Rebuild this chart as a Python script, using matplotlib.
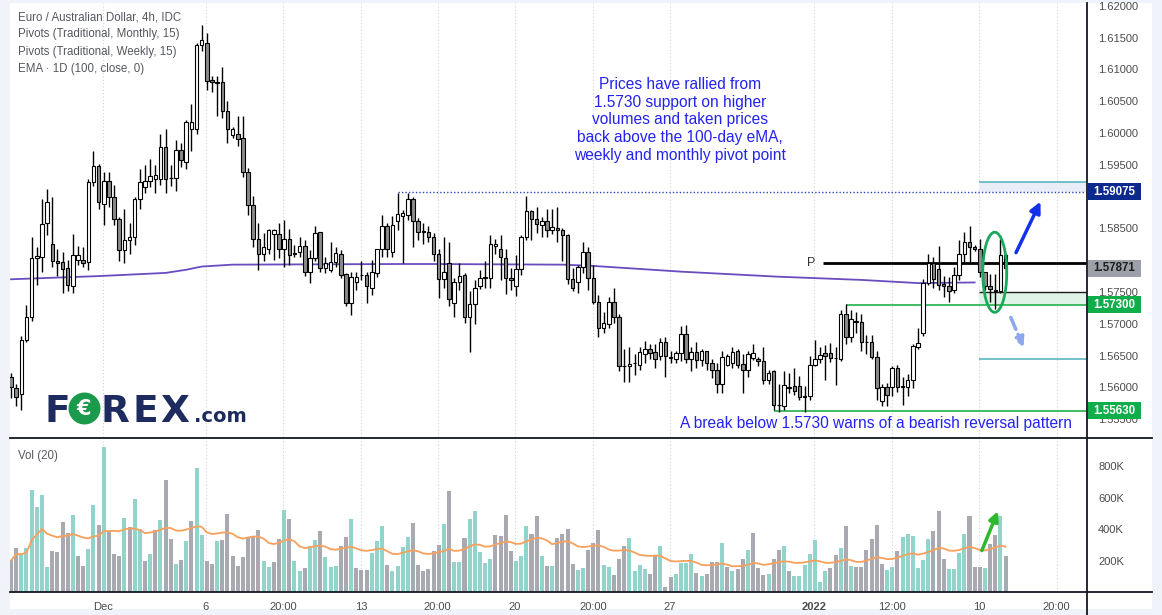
import numpy as np
import pandas as pd
import matplotlib.pyplot as plt
from matplotlib.patches import Ellipse, Rectangle
from matplotlib.lines import Line2D
from matplotlib.transforms import blended_transform_factory

plt.rcParams['font.family'] = ['Liberation Sans', 'DejaVu Sans']

# EUR/AUD 4h candles
opens = [1.5617, 1.5599, 1.5589, 1.5675, 1.5710, 1.5804, 1.5805, 1.5858, 1.5826, 1.5799,
         1.5797, 1.5787, 1.5760, 1.5800, 1.5801, 1.5797, 1.5923, 1.5948, 1.5889, 1.5925,
         1.5900, 1.5865, 1.5816, 1.5832, 1.5836, 1.5896, 1.5915, 1.5924, 1.5927, 1.5927,
         1.5978, 1.5930, 1.5929, 1.5974, 1.5955, 1.6007, 1.6007, 1.6138, 1.6142, 1.6084,
         1.6080, 1.6080, 1.6035, 1.5997, 1.5998, 1.5992, 1.5938, 1.5887, 1.5833, 1.5810,
         1.5818, 1.5841, 1.5841, 1.5818, 1.5834, 1.5811, 1.5813, 1.5822, 1.5782, 1.5804,
         1.5844, 1.5787, 1.5785, 1.5797, 1.5810, 1.5778, 1.5733, 1.5765, 1.5777, 1.5777,
         1.5757, 1.5780, 1.5817, 1.5854, 1.5813, 1.5862, 1.5869, 1.5871, 1.5896, 1.5862,
         1.5846, 1.5844, 1.5836, 1.5810, 1.5771, 1.5795, 1.5732, 1.5765, 1.5777, 1.5710,
         1.5731, 1.5760, 1.5772, 1.5772, 1.5822, 1.5818, 1.5804, 1.5772, 1.5760, 1.5786,
         1.5836, 1.5878, 1.5865, 1.5856, 1.5861, 1.5847, 1.5851, 1.5848, 1.5839, 1.5770,
         1.5766, 1.5789, 1.5813, 1.5772, 1.5735, 1.5694, 1.5700, 1.5734, 1.5710, 1.5634,
         1.5633, 1.5638, 1.5635, 1.5653, 1.5661, 1.5656, 1.5649, 1.5671, 1.5648, 1.5644,
         1.5654, 1.5684, 1.5644, 1.5656, 1.5643, 1.5657, 1.5638, 1.5628, 1.5605, 1.5635,
         1.5638, 1.5657, 1.5637, 1.5628, 1.5647, 1.5645, 1.5642, 1.5612, 1.5625, 1.5573,
         1.5571, 1.5599, 1.5602, 1.5602, 1.5587, 1.5587, 1.5635, 1.5645, 1.5654, 1.5654,
         1.5647, 1.5645, 1.5716, 1.5679, 1.5703, 1.5703, 1.5672, 1.5672, 1.5648, 1.5578,
         1.5600, 1.5600, 1.5630, 1.5601, 1.5601, 1.5612, 1.5664, 1.5685, 1.5764, 1.5795,
         1.5786, 1.5763, 1.5760, 1.5753, 1.5776, 1.5810, 1.5828, 1.5820, 1.5817, 1.5781,
         1.5760, 1.5753, 1.5751, 1.5808]
highs = [1.5622, 1.5606, 1.5681, 1.5730, 1.5836, 1.5821, 1.5897, 1.5912, 1.5900, 1.5818,
         1.5813, 1.5800, 1.5841, 1.5822, 1.5821, 1.5927, 1.5971, 1.5951, 1.5939, 1.5939,
         1.5918, 1.5868, 1.5881, 1.5858, 1.5900, 1.5944, 1.5950, 1.5959, 1.5950, 1.5998,
         1.6006, 1.5949, 1.5989, 1.5984, 1.6021, 1.6045, 1.6142, 1.6170, 1.6157, 1.6089,
         1.6089, 1.6104, 1.6051, 1.6010, 1.6026, 1.6026, 1.5945, 1.5901, 1.5859, 1.5842,
         1.5849, 1.5849, 1.5858, 1.5863, 1.5849, 1.5824, 1.5836, 1.5832, 1.5816, 1.5854,
         1.5845, 1.5805, 1.5829, 1.5821, 1.5816, 1.5780, 1.5781, 1.5781, 1.5798, 1.5781,
         1.5800, 1.5818, 1.5871, 1.5858, 1.5869, 1.5906, 1.5879, 1.5905, 1.5900, 1.5866,
         1.5858, 1.5853, 1.5842, 1.5818, 1.5836, 1.5829, 1.5772, 1.5795, 1.5780, 1.5751,
         1.5769, 1.5785, 1.5798, 1.5840, 1.5833, 1.5840, 1.5818, 1.5787, 1.5808, 1.5840,
         1.5901, 1.5879, 1.5884, 1.5868, 1.5881, 1.5880, 1.5883, 1.5850, 1.5841, 1.5787,
         1.5793, 1.5829, 1.5820, 1.5793, 1.5745, 1.5718, 1.5742, 1.5757, 1.5716, 1.5660,
         1.5663, 1.5652, 1.5664, 1.5673, 1.5669, 1.5668, 1.5677, 1.5679, 1.5657, 1.5657,
         1.5697, 1.5698, 1.5664, 1.5672, 1.5661, 1.5658, 1.5645, 1.5638, 1.5658, 1.5653,
         1.5664, 1.5660, 1.5652, 1.5657, 1.5669, 1.5648, 1.5663, 1.5628, 1.5628, 1.5606,
         1.5626, 1.5622, 1.5630, 1.5618, 1.5602, 1.5649, 1.5675, 1.5663, 1.5666, 1.5670,
         1.5664, 1.5721, 1.5731, 1.5721, 1.5719, 1.5716, 1.5682, 1.5682, 1.5658, 1.5605,
         1.5607, 1.5633, 1.5635, 1.5616, 1.5621, 1.5669, 1.5693, 1.5770, 1.5809, 1.5805,
         1.5822, 1.5775, 1.5774, 1.5790, 1.5831, 1.5845, 1.5854, 1.5824, 1.5833, 1.5782,
         1.5778, 1.5778, 1.5833, 1.5809]
lows = [1.5583, 1.5570, 1.5565, 1.5672, 1.5705, 1.5761, 1.5782, 1.5840, 1.5790, 1.5775,
        1.5749, 1.5751, 1.5748, 1.5793, 1.5790, 1.5784, 1.5916, 1.5880, 1.5855, 1.5884,
        1.5855, 1.5798, 1.5795, 1.5810, 1.5824, 1.5881, 1.5905, 1.5915, 1.5906, 1.5918,
        1.5905, 1.5916, 1.5909, 1.5947, 1.5944, 1.5972, 1.5999, 1.6129, 1.6068, 1.6065,
        1.6026, 1.6023, 1.5984, 1.5992, 1.5979, 1.5931, 1.5871, 1.5821, 1.5784, 1.5798,
        1.5810, 1.5800, 1.5803, 1.5790, 1.5793, 1.5805, 1.5805, 1.5775, 1.5764, 1.5798,
        1.5782, 1.5780, 1.5782, 1.5790, 1.5772, 1.5728, 1.5714, 1.5753, 1.5769, 1.5732,
        1.5745, 1.5773, 1.5805, 1.5805, 1.5805, 1.5848, 1.5796, 1.5863, 1.5820, 1.5832,
        1.5826, 1.5828, 1.5798, 1.5740, 1.5756, 1.5728, 1.5710, 1.5753, 1.5701, 1.5656,
        1.5700, 1.5754, 1.5757, 1.5756, 1.5810, 1.5769, 1.5747, 1.5753, 1.5744, 1.5777,
        1.5832, 1.5832, 1.5842, 1.5837, 1.5837, 1.5841, 1.5829, 1.5798, 1.5763, 1.5751,
        1.5748, 1.5780, 1.5753, 1.5731, 1.5680, 1.5685, 1.5693, 1.5702, 1.5625, 1.5609,
        1.5609, 1.5619, 1.5627, 1.5638, 1.5645, 1.5630, 1.5643, 1.5616, 1.5639, 1.5639,
        1.5642, 1.5638, 1.5625, 1.5630, 1.5633, 1.5627, 1.5614, 1.5591, 1.5591, 1.5633,
        1.5630, 1.5630, 1.5591, 1.5616, 1.5643, 1.5634, 1.5606, 1.5605, 1.5565, 1.5562,
        1.5564, 1.5591, 1.5588, 1.5580, 1.5562, 1.5580, 1.5633, 1.5638, 1.5612, 1.5640,
        1.5604, 1.5642, 1.5668, 1.5672, 1.5685, 1.5658, 1.5653, 1.5645, 1.5580, 1.5571,
        1.5570, 1.5586, 1.5592, 1.5573, 1.5586, 1.5599, 1.5661, 1.5681, 1.5761, 1.5756,
        1.5753, 1.5742, 1.5735, 1.5748, 1.5769, 1.5795, 1.5795, 1.5815, 1.5773, 1.5753,
        1.5735, 1.5724, 1.5748, 1.5777]
closes = [1.5601, 1.5585, 1.5675, 1.5710, 1.5803, 1.5807, 1.5857, 1.5891, 1.5798, 1.5796,
          1.5786, 1.5761, 1.5808, 1.5808, 1.5795, 1.5923, 1.5948, 1.5891, 1.5924, 1.5900,
          1.5865, 1.5816, 1.5832, 1.5836, 1.5896, 1.5923, 1.5925, 1.5933, 1.5934, 1.5978,
          1.5927, 1.5929, 1.5974, 1.5958, 1.6017, 1.6017, 1.6138, 1.6146, 1.6082, 1.6080,
          1.6079, 1.6035, 1.6007, 1.6007, 1.5990, 1.5938, 1.5887, 1.5834, 1.5810, 1.5821,
          1.5847, 1.5847, 1.5818, 1.5834, 1.5808, 1.5810, 1.5822, 1.5782, 1.5804, 1.5842,
          1.5787, 1.5795, 1.5797, 1.5812, 1.5777, 1.5733, 1.5773, 1.5773, 1.5776, 1.5760,
          1.5781, 1.5817, 1.5854, 1.5818, 1.5856, 1.5872, 1.5874, 1.5896, 1.5861, 1.5845,
          1.5845, 1.5836, 1.5810, 1.5770, 1.5781, 1.5739, 1.5766, 1.5775, 1.5710, 1.5731,
          1.5757, 1.5772, 1.5773, 1.5825, 1.5825, 1.5805, 1.5772, 1.5769, 1.5786, 1.5836,
          1.5878, 1.5865, 1.5857, 1.5862, 1.5847, 1.5852, 1.5847, 1.5840, 1.5770, 1.5757,
          1.5789, 1.5813, 1.5772, 1.5735, 1.5694, 1.5702, 1.5734, 1.5710, 1.5633, 1.5633,
          1.5637, 1.5639, 1.5656, 1.5661, 1.5654, 1.5645, 1.5671, 1.5649, 1.5647, 1.5654,
          1.5684, 1.5644, 1.5656, 1.5643, 1.5657, 1.5639, 1.5628, 1.5605, 1.5648, 1.5649,
          1.5656, 1.5635, 1.5628, 1.5653, 1.5654, 1.5642, 1.5612, 1.5623, 1.5573, 1.5572,
          1.5604, 1.5601, 1.5595, 1.5585, 1.5585, 1.5635, 1.5645, 1.5651, 1.5649, 1.5647,
          1.5646, 1.5716, 1.5679, 1.5707, 1.5704, 1.5672, 1.5671, 1.5648, 1.5599, 1.5600,
          1.5588, 1.5630, 1.5600, 1.5602, 1.5612, 1.5665, 1.5670, 1.5764, 1.5795, 1.5770,
          1.5761, 1.5760, 1.5752, 1.5776, 1.5810, 1.5828, 1.5820, 1.5817, 1.5782, 1.5760,
          1.5754, 1.5752, 1.5808, 1.57871]

# volume in thousands, and whether the bar is drawn as "up" (teal)
volumes = [202, 281, 240, 281, 650, 543, 616, 158, 261, 254,
           445, 377, 493, 229, 167, 277, 554, 425, 925, 384,
           240, 227, 472, 413, 595, 404, 199, 240, 397, 459,
           711, 336, 179, 206, 322, 452, 793, 363, 199, 179,
           322, 329, 500, 227, 167, 220, 350, 354, 397, 199,
           158, 193, 336, 520, 466, 199, 131, 152, 290, 329,
           390, 220, 158, 165, 295, 350, 466, 152, 138, 138,
           247, 322, 418, 172, 131, 165, 288, 350, 438, 172,
           131, 145, 261, 302, 431, 643, 193, 193, 343, 466,
           513, 254, 186, 213, 363, 356, 493, 261, 199, 227,
           418, 370, 486, 227, 165, 165, 345, 372, 404, 179,
           138, 152, 268, 315, 397, 172, 158, 111, 213, 295,
           343, 131, 172, 145, 117, 227, 295, 29, 97, 117,
           186, 186, 240, 124, 104, 117, 193, 193, 315, 158,
           131, 145, 213, 268, 377, 152, 111, 117, 213, 268,
           295, 131, 104, 104, 172, 240, 329, 63, 131, 152,
           233, 281, 418, 165, 158, 158, 268, 336, 425, 179,
           138, 158, 261, 350, 370, 356, 152, 206, 336, 390,
           513, 213, 145, 145, 247, 370, 486, 158, 158, 152,
           309, 363, 486, 227]
vol_up = [0, 0, 1, 1, 1, 1, 1, 1, 0, 0,
          0, 0, 1, 0, 0, 1, 1, 0, 1, 0,
          0, 0, 1, 0, 1, 1, 0, 1, 0, 1,
          0, 0, 1, 0, 1, 0, 1, 1, 0, 0,
          1, 0, 0, 0, 0, 0, 0, 0, 0, 1,
          1, 0, 0, 1, 0, 1, 1, 0, 1, 1,
          0, 1, 1, 1, 0, 0, 1, 0, 0, 0,
          1, 1, 1, 0, 1, 1, 1, 1, 0, 0,
          0, 0, 0, 0, 1, 0, 1, 1, 0, 1,
          1, 1, 1, 1, 0, 0, 0, 0, 1, 1,
          1, 0, 0, 1, 0, 1, 0, 0, 0, 0,
          1, 1, 0, 0, 0, 1, 1, 0, 0, 0,
          1, 1, 1, 1, 0, 0, 1, 0, 0, 1,
          1, 1, 1, 0, 1, 0, 0, 0, 1, 0,
          1, 0, 0, 1, 0, 0, 0, 1, 0, 0,
          1, 0, 1, 1, 1, 1, 1, 1, 1, 0,
          0, 1, 0, 1, 0, 0, 0, 0, 0, 0,
          1, 1, 0, 1, 1, 1, 1, 1, 1, 0,
          0, 0, 1, 1, 1, 1, 0, 0, 0, 1,
          0, 0, 1, 0]

# daily 100 EMA, sampled at bar positions
ema_bar = [0, 17, 30, 34, 37, 43, 75, 81, 107, 113, 130, 149, 165, 176, 187]
ema_val = [1.5770, 1.5775, 1.5780, 1.5785, 1.5790, 1.5793, 1.5794, 1.5794, 1.5793, 1.5791,
           1.5782, 1.5774, 1.5769, 1.5764, 1.5765]

time_ticks = [17.9, 37.8, 52.8, 67.9, 82.8, 97.8, 112.9, 127.9, 155.8, 170.9, 187.8, 202.9]
time_labels = ['Dec', '6', '20:00', '13', '20:00', '20', '20:00', '27', '2022', '12:00', '10', '20:00']
price_ticks = [1.555, 1.56, 1.565, 1.57, 1.575, 1.58, 1.585, 1.59, 1.595, 1.60, 1.605, 1.61, 1.615, 1.62]
hidden_ticks = [1.58, 1.59]  # sit under the price tags
vol_ticks = [200, 400, 600, 800]

pivot_p = 1.5796
weekly_top = 1.5923
resistance = 1.59075
support = 1.5730
zone_top = 1.5750
lower_band = 1.5645
low_support = 1.5563
last_price = closes[-1]

W, H = 1162, 615
def fx(px):
    return px / W
def fy(py):
    return 1 - py / H

fig = plt.figure(figsize=(11.62, 6.15), dpi=100, facecolor='#f0f3fa')
fig.patches.append(Rectangle((fx(10), fy(609)), fx(1152) - fx(10), fy(3) - fy(609),
                             transform=fig.transFigure, fc='white', ec='none', zorder=-1))

ax = fig.add_axes([fx(10), fy(437), fx(1087) - fx(10), fy(3) - fy(437)])
axv = fig.add_axes([fx(10), fy(592), fx(1087) - fx(10), fy(439) - fy(592)], sharex=ax)

x = np.arange(len(opens))
o = np.array(opens); c = np.array(closes)
up = c >= o
body_lo = np.minimum(o, c)
body_h = np.maximum(np.abs(c - o), 0.00004)

ax.vlines(x, lows, highs, color='black', lw=1, zorder=3)
ax.bar(x, body_h, bottom=body_lo, width=0.68, color=np.where(up, 'white', '#8b8b8b'),
       edgecolor='black', linewidth=0.8, zorder=4)
ax.plot(ema_bar, ema_val, color='#6a4cc0', lw=1.3, zorder=2)

xmax = 208.8
ax.set_xlim(-0.2, xmax)
ax.set_ylim(1.55220, 1.62044)

# levels and drawings
ax.hlines(resistance, 75, xmax, color='#2a4bb5', lw=1, linestyles=(0, (1, 1.5)), zorder=2)
ax.fill_between([187.8, xmax], resistance, weekly_top, color='#e9edf8', zorder=1, lw=0)
ax.hlines(weekly_top, 187.8, xmax, color='#5ab6c0', lw=1.2, zorder=2)
ax.hlines(lower_band, 187.8, xmax, color='#5ab6c0', lw=1.2, zorder=2)
ax.fill_between([187.8, xmax], support, zone_top, color='#dff3e6', zorder=1, lw=0)
ax.hlines(zone_top, 187.8, xmax, color='#1b1b1b', lw=1, zorder=2)
ax.hlines(support, 162, xmax, color='#22b04a', lw=1.2, zorder=2)
ax.hlines(low_support, 148, xmax, color='#22b04a', lw=1.2, zorder=2)
ax.hlines(pivot_p, 157.5, xmax, color='black', lw=2, zorder=2)
ax.text(155.2, pivot_p, 'P', ha='center', va='center', fontsize=9, color='#333333')

ax.add_patch(Ellipse((190.9, 1.5781), 4.66, 0.0126, fill=False, ec='#1aa85a', lw=2, zorder=6))
ax.annotate('', xy=(200.0, 1.5896), xytext=(194.8, 1.5808),
            arrowprops=dict(arrowstyle='-|>', color='#1431ea', lw=2.5, mutation_scale=16), zorder=6)
ax.annotate('', xy=(196.7, 1.5659), xytext=(193.8, 1.5714),
            arrowprops=dict(arrowstyle='-|>', color='#8ca7ee', lw=2.5, ls='--', mutation_scale=14), zorder=6)

ax.text(129.8, 1.6088, 'Prices have rallied from\n1.5730 support on higher\nvolumes and taken prices\n'
        'back above the 100-day eMA,\nweekly and monthly pivot point',
        ha='center', va='top', multialignment='center', fontsize=11.2, color='#2323ee', linespacing=1.22)
ax.text(205.8, 1.55425, 'A break below 1.5730 warns of a bearish reversal pattern',
        ha='right', va='center', fontsize=11.2, color='#2323ee')

# grid and axes styling
for a in (ax, axv):
    for t in time_ticks:
        a.axvline(t, color='#cfd2d9', lw=0.8, ls=(0, (1, 2)), zorder=0)
    for s in a.spines.values():
        s.set_visible(False)
    a.yaxis.tick_right()
    a.tick_params(length=0, labelsize=8, colors='#4c4c4c')

ax.tick_params(axis='x', labelbottom=False)
ax.set_yticks(price_ticks)
ax.set_yticklabels(['' if v in hidden_ticks else f'{v:.5f}' for v in price_ticks])
ax.tick_params(axis='y', pad=8)

# price tags on the right axis
tr = blended_transform_factory(ax.transAxes, ax.transData)
def tag(price, text, bg, fg):
    half = 8.5 / 6360
    ax.add_patch(Rectangle((1.0009, price - half), 0.0492, 2 * half, transform=tr,
                           fc=bg, ec='none', clip_on=False, zorder=10))
    ax.text(1.0255, price, text, transform=tr, ha='center', va='center', fontsize=8.3,
            fontweight='bold', color=fg, clip_on=False, zorder=11)

tag(resistance, '1.59075', '#0c2a8e', 'white')
tag(last_price, f'{last_price:.5f}', '#9da0a8', '#1e1e1e')
tag(support, '1.57300', '#0fae4b', 'white')
tag(low_support, '1.55630', '#0fae4b', 'white')

# volume pane
vol_col = np.where(np.array(vol_up) == 1, '#92d3cb', '#a9aab1')
axv.bar(x, volumes, width=0.78, color=vol_col, zorder=2)
vol_ma = pd.Series(volumes).rolling(20, min_periods=1).mean()
axv.plot(x, vol_ma, color='#f8a05c', lw=1.3, zorder=3)
axv.set_ylim(0, 975)
axv.set_yticks(vol_ticks)
axv.set_yticklabels([f'{v}K' for v in vol_ticks])
axv.tick_params(axis='y', pad=8)
axv.set_xticks(time_ticks)
axv.set_xticklabels(time_labels)
axv.tick_params(axis='x', pad=7)
for lab in axv.get_xticklabels():
    if lab.get_text() == '2022':
        lab.set_fontweight('bold')
axv.annotate('', xy=(191.7, 531), xytext=(188.2, 248),
             arrowprops=dict(arrowstyle='-|>', color='#2db82d', lw=2.5, mutation_scale=14))

# separators
fig.add_artist(Line2D([fx(10), fx(1152)], [fy(438), fy(438)], color='#131722', lw=1.3))
fig.add_artist(Line2D([fx(10), fx(1152)], [fy(592), fy(592)], color='#131722', lw=1.3))
fig.add_artist(Line2D([fx(1087), fx(1087)], [fy(3), fy(615)], color='#131722', lw=1.3))

# legend text
head = ['Euro / Australian Dollar, 4h, IDC', 'Pivots (Traditional, Monthly, 15)',
        'Pivots (Traditional, Weekly, 15)', 'EMA \u00b7 1D (100, close, 0)']
for k, t in enumerate(head):
    fig.text(fx(18), fy(17 + 17.3 * k), t, fontsize=8.3, color='#55585f', va='center')
fig.text(fx(18), fy(456), 'Vol (20)', fontsize=8.3, color='#55585f', va='center')

# FOREX.com logo
navy = '#1d2b5e'
base = fy(422)
fig.text(fx(45), base, 'F', fontsize=27, fontweight='bold', color=navy, family='DejaVu Sans')
fig.add_artist(Line2D([fx(84)], [fy(408)], marker='o', markersize=22, color='#1c9a4b'))
fig.text(fx(84), fy(409), '\u20ac', fontsize=15, fontweight='bold', color='white',
         ha='center', va='center', family='DejaVu Sans')
for ch, px in zip('REX', [101, 132, 160]):
    fig.text(fx(px), base, ch, fontsize=27, fontweight='bold', color=navy, family='DejaVu Sans')
fig.text(fx(194), base, '.com', fontsize=14, fontweight='bold', color=navy, family='DejaVu Sans')

fig.savefig('out.png', dpi=100, facecolor=fig.get_facecolor())
